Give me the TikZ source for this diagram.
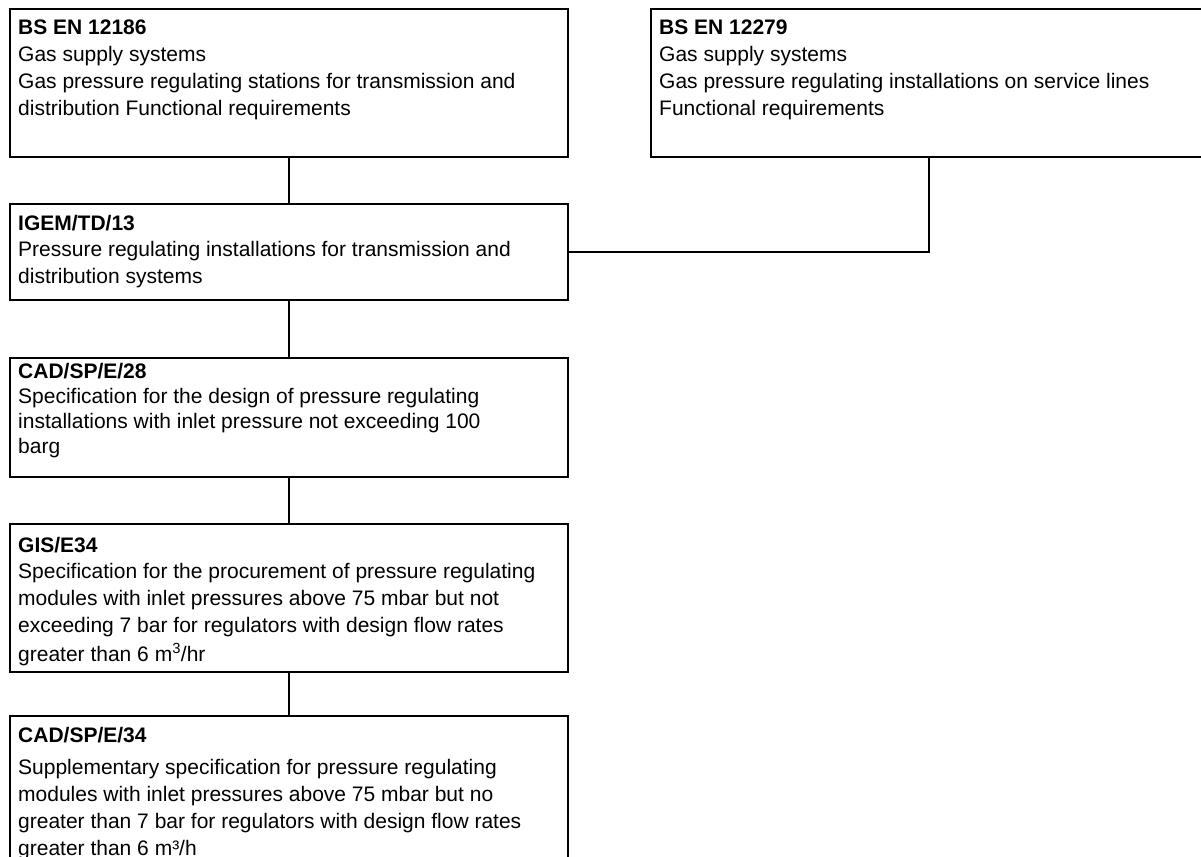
\documentclass[tikz,border=0pt]{standalone}
\usepackage{fontspec}
\setmainfont{Liberation Sans}
\begin{document}
\begin{tikzpicture}[x=1pt,y=-1pt,
  docbox/.style={draw=black, line width=2pt, fill=none, inner sep=0pt, anchor=north west, minimum width=558pt},
  doctext/.style={anchor=base west, inner sep=0pt, font=\fontsize{21}{26.8}\selectfont},
  link/.style={draw=black, line width=2pt}]
\useasboundingbox[fill=white] (0,0) rectangle (1201,856);
% boxes
\node[docbox, minimum height=148pt] (bs12186) at (9,8) {};
\node[docbox, minimum width=556pt, minimum height=148pt] (bs12279) at (650,8) {};
\node[docbox, minimum height=96pt] (igem) at (9,203) {};
\node[docbox, minimum height=119pt] (cad28) at (9,357) {};
\node[docbox, minimum height=148pt] (gis) at (9,523) {};
\node[docbox, minimum height=160pt] (cad34) at (9,715) {};
% texts
\node[doctext] (t1) at (18,35) {\parbox[t]{600pt}{\raggedright\textbf{BS EN 12186}\\
Gas supply systems\\
Gas pressure regulating stations for transmission and\\
distribution Functional requirements}};
\node[doctext] (t2) at (659,35) {\parbox[t]{600pt}{\raggedright\textbf{BS EN 12279}\\
Gas supply systems\\
Gas pressure regulating installations on service lines\\
Functional requirements}};
\node[doctext] (t3) at (18,230) {\parbox[t]{600pt}{\raggedright\textbf{IGEM/TD/13}\\
Pressure regulating installations for transmission and\\
distribution systems}};
\node[doctext, font=\fontsize{21}{25}\selectfont] (t4) at (18,378.5) {\parbox[t]{600pt}{\raggedright\textbf{CAD/SP/E/28}\\
Specification for the design of pressure regulating\\
installations with inlet pressure not exceeding 100\\
barg}};
\node[doctext] (t5) at (18,552) {\parbox[t]{600pt}{\raggedright\textbf{GIS/E34}\\
Specification for the procurement of pressure regulating\\
modules with inlet pressures above 75 mbar but not\\
exceeding 7 bar for regulators with design flow rates\\[2pt]
greater than 6 m\textsuperscript{3}/hr}};
\node[doctext] (t6) at (18,742) {\parbox[t]{600pt}{\raggedright\textbf{CAD/SP/E/34}\\[6pt]
Supplementary specification for pressure regulating\\
modules with inlet pressures above 75 mbar but no\\
greater than 7 bar for regulators with design flow rates\\
greater than 6 m³/h}};
% connectors
\draw[link] (bs12186.south) -- (igem.north);
\draw[link] (igem.south) -- (cad28.north);
\draw[link] (cad28.south) -- (gis.north);
\draw[link] (gis.south) -- (cad34.north);
\draw[link] (igem.east) -| (bs12279.south);
\end{tikzpicture}
\end{document}
